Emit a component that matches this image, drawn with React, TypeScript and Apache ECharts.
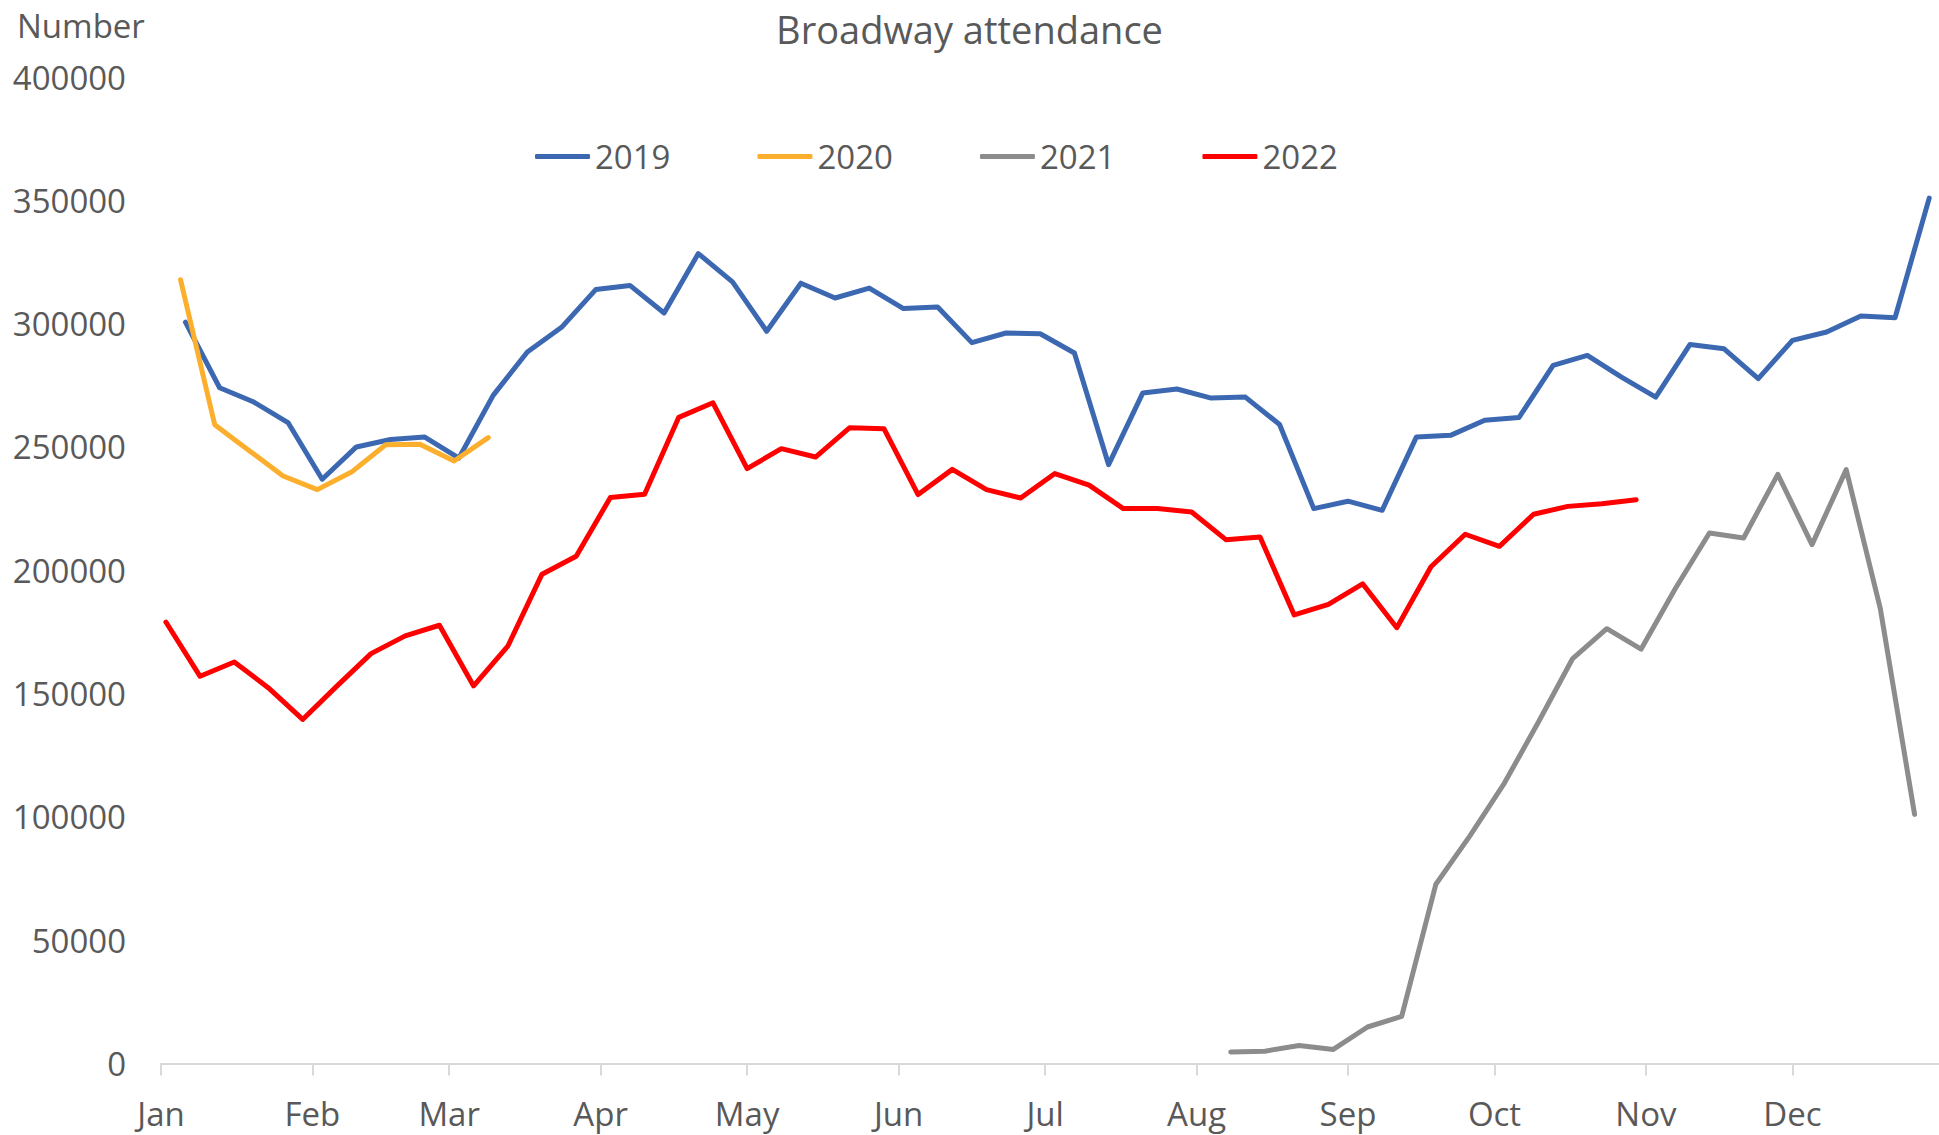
import React, { useEffect, useRef } from "react";
import * as echarts from "echarts";

const monthLabels = ["Jan", "Feb", "Mar", "Apr", "May", "Jun", "Jul", "Aug", "Sep", "Oct", "Nov", "Dec"];
const yTicks = [0, 50000, 100000, 150000, 200000, 250000, 300000, 350000, 400000];
const seriesNames = ["2019", "2020", "2021", "2022"];
const seriesColors = ["#3C68B2", "#FBAF2C", "#8C8C8C", "#FF0000"];

// first week-ending date (year, month index, day) of each series; data is weekly
const start2019 = [2019, 0, 6];
const start2020 = [2020, 0, 5];
const start2021 = [2021, 7, 8];
const start2022 = [2022, 0, 2];

const values2019 = [
  300600, 274000, 268200, 259900, 236900, 250000, 253000, 254000, 245500, 270900,
  288500, 298500, 313800, 315500, 304300, 328400, 316900, 296900, 316400, 310400,
  314400, 306100, 306700, 292300, 296200, 295900, 288100, 242800, 271900, 273500,
  269800, 270200, 259100, 225000, 228000, 224300, 254000, 254700, 260800, 261900,
  283100, 287100, 278300, 270200, 291500, 289800, 277700, 293200, 296600, 303100,
  302400, 350900,
];
const values2020 = [317800, 259000, 248600, 238200, 232700, 239800, 250900, 251100, 244300, 253800];
const values2021 = [
  4700, 5000, 7300, 5700, 14800, 19100, 72700, 92400, 113600, 138500,
  164200, 176300, 168000, 192500, 215100, 213100, 238900, 210400, 240800, 184300,
  101000,
];
const values2022 = [
  179000, 157000, 162800, 152300, 139500, 153000, 166200, 173400, 177700, 153100,
  169200, 198400, 205700, 229500, 230800, 262000, 267900, 241200, 249300, 245900,
  257800, 257400, 230700, 240900, 232700, 229300, 239200, 234500, 225000, 225000,
  223600, 212400, 213500, 181900, 186200, 194500, 176700, 201400, 214600, 209700,
  222700, 225900, 227000, 228600,
];

const DAY = 86400000;
function dayOfYear(y: number, m: number, d: number): number {
  return Math.round((Date.UTC(y, m, d) - Date.UTC(y, 0, 1)) / DAY);
}
function weekly(start: number[], vals: number[]): number[][] {
  return vals.map((v, i) => [dayOfYear(start[0], start[1], start[2] + 7 * i), v]);
}
const monthStarts = monthLabels.map((_, m) => dayOfYear(2019, m, 1));

const allData = [
  weekly(start2019, values2019),
  weekly(start2020, values2020),
  weekly(start2021, values2021),
  weekly(start2022, values2022),
];

const TEXT = "#595959";
const FONT = "'Open Sans', 'Noto Sans', sans-serif";

export default function App() {
  const ref = useRef<HTMLDivElement>(null);
  useEffect(() => {
    if (!ref.current) return;
    const chart = echarts.init(ref.current, undefined, { renderer: "svg" });
    chart.setOption({
      animation: false,
      backgroundColor: "#ffffff",
      textStyle: { fontFamily: FONT },
      title: [
        {
          text: "Broadway attendance",
          left: "center",
          top: 10,
          padding: 0,
          textStyle: { fontSize: 38, fontWeight: "normal", color: TEXT, fontFamily: FONT },
        },
        {
          text: "Number",
          left: 17,
          top: 9,
          padding: 0,
          textStyle: { fontSize: 33, fontWeight: "normal", color: TEXT, fontFamily: FONT },
        },
      ],
      legend: {
        data: seriesNames,
        left: 535,
        top: 140,
        padding: 0,
        icon: "roundRect",
        itemWidth: 55,
        itemHeight: 5,
        itemGap: 87,
        textStyle: { fontSize: 33, color: TEXT, fontFamily: FONT },
      },
      grid: { left: 161, right: 0, top: 77, bottom: 71.5, containLabel: false },
      xAxis: {
        type: "value",
        min: 0,
        max: 364,
        axisLine: { show: true, lineStyle: { color: "#D9D9D9", width: 2 } },
        axisTick: {
          show: true,
          customValues: monthStarts,
          length: 12,
          lineStyle: { color: "#D9D9D9", width: 2 },
        },
        axisLabel: {
          customValues: monthStarts,
          formatter: (v: number) => {
            const idx = monthStarts.indexOf(Math.round(v));
            return idx >= 0 ? monthLabels[idx] : "";
          },
          fontSize: 33,
          color: TEXT,
          margin: 33,
          fontFamily: FONT,
        },
        splitLine: { show: false },
      },
      yAxis: {
        type: "value",
        min: yTicks[0],
        max: yTicks[yTicks.length - 1],
        interval: yTicks[1] - yTicks[0],
        axisLine: { show: false },
        axisTick: { show: false },
        splitLine: { show: false },
        axisLabel: {
          fontSize: 33,
          color: TEXT,
          margin: 35,
          fontFamily: FONT,
          formatter: (v: number) => String(v),
        },
      },
      series: seriesNames.map((name, i) => ({
        name,
        type: "line",
        data: allData[i],
        symbol: "none",
        showSymbol: false,
        color: seriesColors[i],
        lineStyle: { width: 5, color: seriesColors[i], cap: "round", join: "round" },
      })),
    });
    return () => chart.dispose();
  }, []);
  return (
    <div
      ref={ref}
      style={{ position: "fixed", left: 0, top: 0, width: "1939px", height: "1135px", background: "#fff" }}
    />
  );
}
